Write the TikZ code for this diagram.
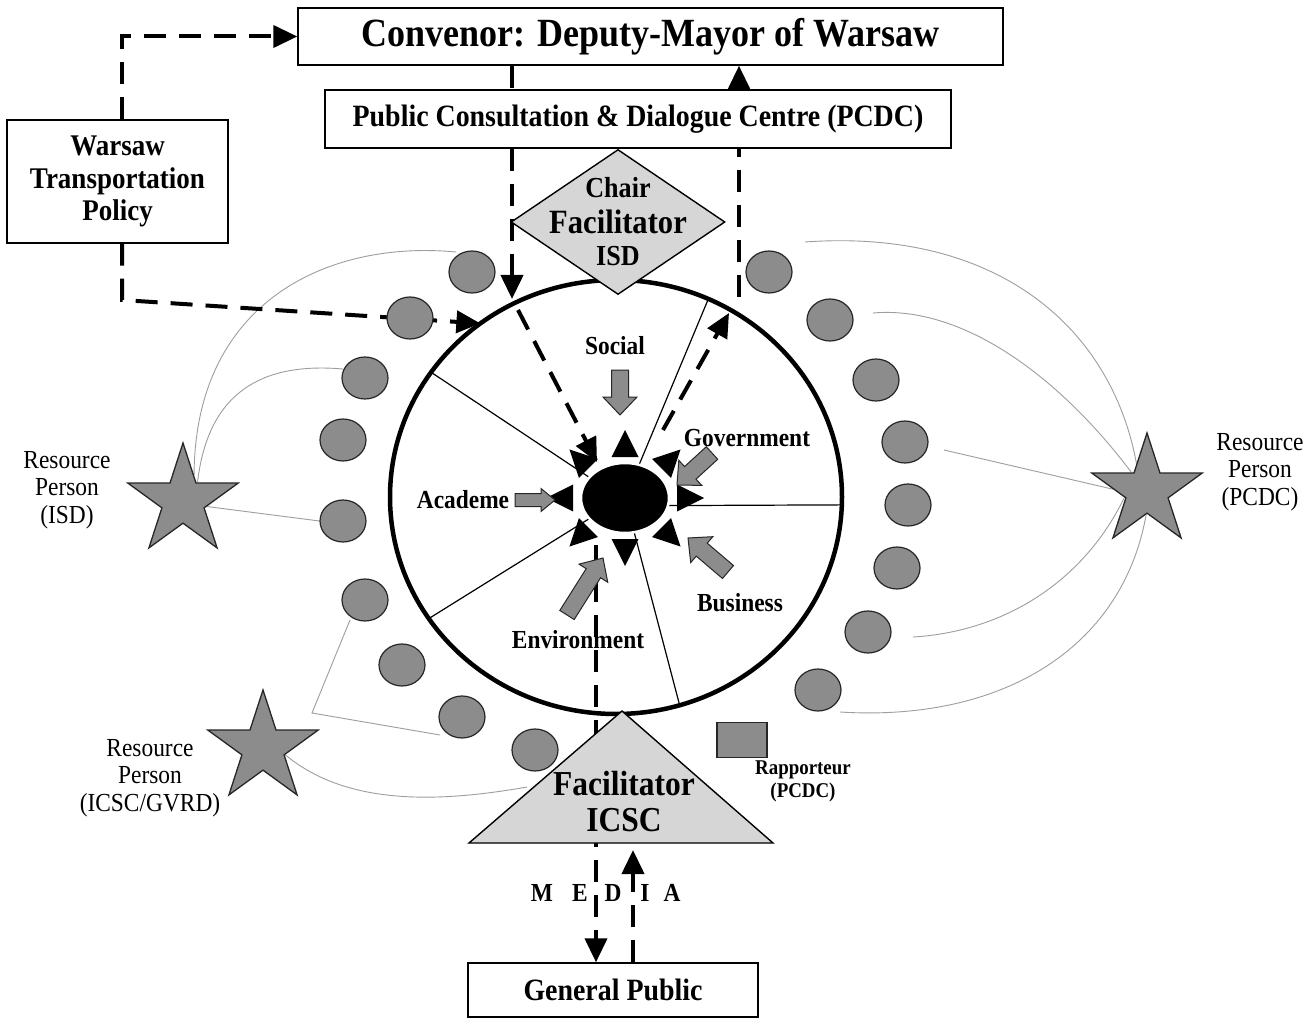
\documentclass[tikz,border=0pt]{standalone}
\usepackage{fontspec}
\setmainfont{Liberation Serif}[FakeStretch=0.9]
\usetikzlibrary{arrows.meta,shapes.geometric,calc}
\definecolor{seatgray}{gray}{0.55}
\definecolor{lightfill}{gray}{0.84}
\definecolor{thingray}{gray}{0.62}
\newcommand\fsz[2]{\fontsize{#1}{#2}\selectfont}
\pgfdeclarelayer{paper}\pgfdeclarelayer{links}
\pgfsetlayers{paper,links,main}
\newcommand\blockarr[5]{%
 \coordinate (ba-t) at #1; \coordinate (ba-p) at #2;
 \coordinate (ba-h) at ($(ba-p)!#5pt!(ba-t)$);
 \draw[blockstyle] ($(ba-t)!#3pt!90:(ba-p)$) -- ($(ba-h)!#3pt!-90:(ba-t)$) -- ($(ba-h)!#4pt!-90:(ba-t)$) -- (ba-p) -- ($(ba-h)!#4pt!90:(ba-t)$) -- ($(ba-h)!#3pt!90:(ba-t)$) -- ($(ba-t)!#3pt!-90:(ba-p)$) -- cycle;}
\newcommand\spike[2]{\pgfmathsetmacro\spa{#2+90}\pgfmathsetmacro\spb{#2-90}\pgfmathsetmacro\spc{#2+180}%
 \fill ($(#1)+(#2:15)$) -- ($(#1)+(\spc:12)+(\spa:13.5)$) -- ($(#1)+(\spc:12)+(\spb:13.5)$) -- cycle;}
\begin{document}
\begin{tikzpicture}[x=1pt,y=-1pt,
 box/.style={draw=black, line width=1.4pt, fill=white, inner sep=0pt},
 seatnode/.style={ellipse, draw=black!85, line width=1.2pt, fill=seatgray, minimum width=46pt, minimum height=42pt, inner sep=0pt},
 starnode/.style={star, star points=5, star point ratio=2.618, draw=black!85, line width=1.3pt, fill=seatgray, minimum size=116pt, inner sep=0pt},
 dashline/.style={line width=4pt, dash pattern=on 22pt off 13pt},
 dasharrow/.style={dashline, -{Triangle[length=24pt,width=22pt]}},
 spoke/.style={line width=1.2pt},
 link/.style={draw=thingray, line width=0.9pt},
 blockstyle/.style={draw=black!85, line width=1pt, fill=seatgray},
 lbl/.style={font=\bfseries\fsz{26}{30}, inner sep=0pt},
 media/.style={font=\bfseries\fsz{26}{30}, inner sep=0pt},
 respers/.style={align=center, font=\fsz{26}{27.5}, inner sep=0pt}
]
\begin{pgfonlayer}{paper}
\fill[white] (0,0) rectangle (1310,1019);
\end{pgfonlayer}
\useasboundingbox (0,0) rectangle (1310,1019);

% ---------- boxes ----------
\node[box, minimum width=705pt, minimum height=57pt, font=\bfseries\fsz{40}{44}] (conv) at (650.5,36.5) {Convenor: Deputy-Mayor of Warsaw};
\node[box, minimum width=626pt, minimum height=58pt, font=\bfseries\fsz{31}{34}] (pcdc) at (638,119) {Public Consultation \& Dialogue Centre (PCDC)};
\node[box, minimum width=221pt, minimum height=123pt, align=center, font=\bfseries\fsz{30}{32.5}] (wtp) at (117.5,181.5) {Warsaw\\Transportation\\Policy};
\node[box, minimum width=290pt, minimum height=54pt, font=\bfseries\fsz{31}{34}] (gp) at (613,990) {General Public};

% ---------- table ----------
\node[draw, ellipse, line width=4.5pt, minimum width=452pt, minimum height=434pt, inner sep=0pt, outer sep=0pt] (table) at (616,497) {};
\node[ellipse, fill=black, draw=white, line width=2.5pt, minimum width=88pt, minimum height=70pt, inner sep=0pt, outer sep=0pt] (hub) at (625,498) {};

% ---------- seats ----------
\node[seatnode] (l1) at (472,272) {};
\node[seatnode] (l2) at (410,318) {};
\node[seatnode] (l3) at (365,378) {};
\node[seatnode] (l4) at (343,440) {};
\node[seatnode] (l5) at (343,521) {};
\node[seatnode] (l6) at (365,600) {};
\node[seatnode] (l7) at (402,665) {};
\node[seatnode] (l8) at (462,717) {};
\node[seatnode] (l9) at (535,750) {};
\node[seatnode] (r1) at (769,272) {};
\node[seatnode] (r2) at (830,320) {};
\node[seatnode] (r3) at (876,380) {};
\node[seatnode] (r4) at (905,442) {};
\node[seatnode] (r5) at (908,505) {};
\node[seatnode] (r6) at (897,568) {};
\node[seatnode] (r7) at (868,632) {};
\node[seatnode] (r8) at (818,690) {};

% ---------- stars ----------
\node[starnode] (sISD) at (183,501) {};
\node[starnode] (sICSC) at (263,748) {};
\node[starnode] (sPCDC) at (1147,491) {};
\node[respers] (tISD) at (67,490) {Resource\\Person\\(ISD)};
\node[respers] (tICSC) at (150,778) {Resource\\Person\\(ICSC/GVRD)};
\node[respers] (tPCDC) at (1260,472) {Resource\\Person\\(PCDC)};

% ---------- coordinates ----------
\coordinate (vW) at (122,0);
\coordinate (vL) at (512,0);
\coordinate (vR) at (739,0);
\coordinate (vD) at (596,0);
\coordinate (vU) at (633,0);
\coordinate (wcorner) at (122,300);
\coordinate (dL) at (512,299);
\coordinate (dgs) at (518,310);
\coordinate (dge) at (597,462);
\coordinate (ugs) at (663,430);
\coordinate (uge) at (729,313);
\coordinate (uvs) at (739,297);
\coordinate (mds) at (596,545);
\coordinate (mue) at (633,850);
\coordinate (cR1) at (805,242);
\coordinate (cR2) at (873,313);
\coordinate (cR3) at (944,450);
\coordinate (cR4) at (913,637);
\coordinate (cR5) at (840,712);
\coordinate (cL1) at (456,252);
\coordinate (cL2) at (343,369);
\coordinate (cL4a) at (350,620);
\coordinate (cL4b) at (312,713);
\coordinate (cL4c) at (440,735);
\coordinate (cL5) at (527,787);

% ---------- links, spokes, dashed flows (behind) ----------
\begin{pgfonlayer}{links}
\draw[link] (cR1) .. controls (1000,228) and (1112,330) .. (sPCDC.111);
\draw[link] (cR2) .. controls (965,305) and (1062,380) .. (sPCDC.130);
\draw[link] (cR3) -- (sPCDC.177);
\draw[link] (cR4) .. controls (1000,632) and (1082,585) .. (sPCDC.196);
\draw[link] (cR5) .. controls (1000,722) and (1122,650) .. (sPCDC.268);
\draw[link] (cL1) .. controls (330,240) and (195,300) .. (sISD.67);
\draw[link] (cL2) .. controls (262,362) and (208,392) .. (sISD.52);
\draw[link] (sISD.347) -- (l5.west);
\draw[link] (cL4a) -- (cL4b) -- (cL4c);
\draw[link] (sICSC.343) .. controls (340,800) and (420,806) .. (cL5);

\draw[spoke] (hub.150) -- (table.146);
\draw[spoke] (hub.210) -- (table.213);
\draw[spoke] (hub.285) -- (table.287);
\draw[spoke] (hub.350) -- (table.358);
\draw[spoke] (hub.67) -- (table.65);

\draw[dasharrow] (wtp.north -| vW) |- (conv.west);
\draw[dasharrow] (wtp.south -| vW) -- (wcorner) -- (table.128);
\draw[dashline] (conv.south -| vL) -- (pcdc.north -| vL);
\draw[dasharrow] (pcdc.south -| vL) -- (dL);
\draw[dasharrow] (dgs) -- (dge);
\draw[dasharrow] (ugs) -- (uge);
\draw[dasharrow] (uvs) -- (conv.south -| vR);
\draw[dasharrow] (mds) -- (gp.north -| vD);
\draw[dasharrow] (gp.north -| vU) -- (mue);
\end{pgfonlayer}

% ---------- spikes round the hub ----------
\spike{625,445}{-90}
\spike{670,460}{-45}
\spike{689,498}{0}
\spike{670,536}{45}
\spike{625,551}{90}
\spike{580,536}{135}
\spike{561,498}{180}
\spike{580,460}{-135}

% ---------- stakeholder arrows ----------
\blockarr{(620,370)}{(620,415)}{8.5}{17}{18}
\blockarr{(712,453)}{(677,485)}{8.5}{17}{18}
\blockarr{(515,500)}{(555,500)}{6.5}{11.5}{14}
\blockarr{(728,572)}{(688,538)}{8.5}{17}{18}
\blockarr{(567,615)}{(603,558)}{8.5}{17}{18}

\node[lbl] (social) at (615,346) {Social};
\node[lbl] (gov) at (747,438) {Government};
\node[lbl] (acad) at (463,500) {Academe};
\node[lbl] (bus) at (740,603) {Business};
\node[lbl] (env) at (578,640) {Environment};

% ---------- chair diamond ----------
\node[diamond, draw, line width=1.4pt, fill=lightfill, minimum width=214pt, minimum height=145pt, inner sep=0pt] (chair) at (618,222) {};
\node[font=\bfseries\fsz{29}{30}, inner sep=0pt] (chairA) at (618,188) {Chair};
\node[font=\bfseries\fsz{34}{36}, inner sep=0pt] (chairB) at (618,222) {Facilitator};
\node[font=\bfseries\fsz{29}{30}, inner sep=0pt] (chairC) at (618,256) {ISD};

% ---------- facilitator triangle ----------
\draw[line width=1.4pt, fill=lightfill] (622,711) coordinate (tA) -- (469,843) coordinate (tB) -- (773,843) coordinate (tC) -- cycle;
\node[align=center, font=\bfseries\fsz{35}{36}, inner sep=0pt] (icsc) at (624,802) {Facilitator\\ICSC};

% ---------- rapporteur ----------
\node[draw=black!85, line width=1.2pt, fill=seatgray, minimum width=50pt, minimum height=35pt, inner sep=0pt] (rap) at (742,740) {};
\node[align=center, font=\bfseries\fsz{21}{23}, inner sep=0pt] (rapt) at (803,781) {Rapporteur\\(PCDC)};

% ---------- media ----------
\node[media] (m1) at (542,893) {M};
\node[media] (m2) at (580,893) {E};
\node[media] (m3) at (613,893) {D};
\node[media] (m4) at (645,893) {I};
\node[media] (m5) at (672,893) {A};
\end{tikzpicture}
\end{document}
